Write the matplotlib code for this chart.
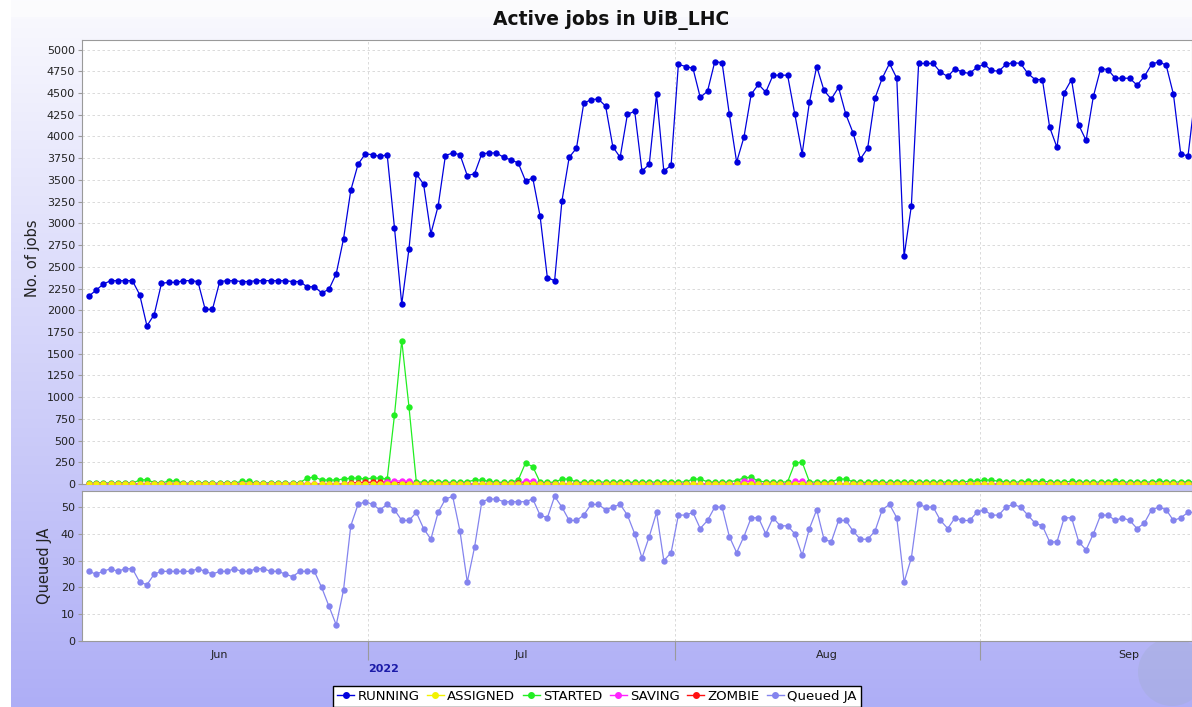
"""Active jobs in UiB_LHC - MonALISA style two-panel history chart."""
import matplotlib
matplotlib.use('Agg')
import matplotlib.pyplot as plt
import numpy as np
from matplotlib.lines import Line2D
from matplotlib.patches import Circle
from matplotlib.transforms import blended_transform_factory

plt.rcParams['font.family'] = ['DejaVu Sans']

# ---- data ----
running = [
    2160, 2230, 2300, 2340, 2340, 2340, 2340, 2180, 1820, 1950,
    2310, 2320, 2320, 2340, 2340, 2330, 2010, 2010, 2330, 2340,
    2340, 2330, 2330, 2340, 2340, 2340, 2340, 2340, 2330, 2330,
    2270, 2270, 2200, 2240, 2420, 2820, 3380, 3680, 3800, 3790,
    3770, 3790, 2950, 2070, 2710, 3570, 3450, 2880, 3200, 3780,
    3810, 3790, 3550, 3570, 3800, 3810, 3810, 3760, 3730, 3695,
    3490, 3520, 3085, 2375, 2340, 3255, 3760, 3865, 4380, 4425,
    4430, 4350, 3880, 3760, 4255, 4290, 3600, 3680, 4485, 3600,
    3670, 4830, 4805, 4785, 4450, 4520, 4860, 4850, 4255, 3705,
    3990, 4485, 4600, 4510, 4705, 4705, 4705, 4255, 3800, 4395,
    4805, 4530, 4430, 4565, 4255, 4040, 3740, 3865, 4440, 4670,
    4840, 4670, 2620, 3200, 4840, 4840, 4840, 4740, 4690, 4780,
    4740, 4725, 4795, 4830, 4760, 4750, 4830, 4850, 4840, 4725,
    4655, 4655, 4105, 3875, 4505, 4655, 4130, 3955, 4460, 4780,
    4770, 4670, 4670, 4670, 4590, 4690, 4830, 4860, 4820, 4485,
    3800, 3775, 4480,
]
started = [
    10, 10, 15, 10, 10, 15, 10, 45, 50, 15,
    10, 35, 35, 10, 10, 10, 15, 10, 10, 15,
    10, 30, 30, 10, 10, 15, 10, 10, 10, 15,
    68, 80, 46, 46, 46, 57, 68, 68, 57, 68,
    68, 57, 791, 1651, 883, 25, 20, 20, 25, 20,
    20, 20, 25, 46, 46, 30, 20, 20, 20, 46,
    241, 200, 20, 20, 20, 57, 57, 20, 20, 20,
    25, 20, 20, 25, 20, 20, 20, 25, 20, 20,
    25, 20, 25, 57, 57, 25, 20, 20, 25, 40,
    70, 80, 30, 25, 20, 20, 25, 241, 252, 25,
    20, 20, 25, 57, 57, 25, 20, 20, 25, 20,
    20, 25, 20, 20, 25, 20, 25, 20, 25, 20,
    25, 30, 35, 46, 46, 30, 25, 20, 25, 30,
    25, 30, 25, 20, 25, 30, 25, 20, 25, 20,
    25, 30, 25, 20, 25, 20, 25, 30, 25, 20,
    25, 25, 25,
]
assigned = [
    0, 0, 0, 0, 0, 0, 0, 0, 0, 0, 0, 0, 0, 0, 0, 0, 0, 0, 0, 0,
    0, 0, 0, 0, 0, 0, 0, 0, 0, 0, 0, 0, 0, 0, 0, 0, 0, 0, 0, 0,
    0, 0, 0, 0, 0, 0, 0, 0, 0, 0, 0, 0, 0, 0, 0, 0, 0, 0, 0, 0,
    0, 0, 0, 0, 0, 0, 0, 0, 0, 0, 0, 0, 0, 0, 0, 0, 0, 0, 0, 0,
    0, 0, 0, 0, 0, 0, 0, 0, 0, 0, 0, 0, 0, 0, 0, 0, 0, 0, 0, 0,
    0, 0, 0, 0, 0, 0, 0, 0, 0, 0, 0, 0, 0, 0, 0, 0, 0, 0, 0, 0,
    0, 0, 0, 0, 0, 0, 0, 0, 0, 0, 0, 0, 0, 0, 0, 0, 0, 0, 0, 0,
    0, 0, 0, 0, 0, 0, 0, 0, 0, 0, 0, 0, 0,
]
saving = [
    0, 0, 0, 0, 0, 0, 0, 0, 0, 0, 0, 0, 0, 0, 0, 0, 0, 0, 0, 0,
    0, 0, 0, 0, 0, 0, 0, 0, 0, 0, 0, 0, 0, 0, 0, 0, 0, 0, 0, 0,
    0, 20, 35, 35, 30, 0, 0, 0, 0, 0, 0, 0, 0, 0, 0, 0, 0, 0, 0, 0,
    40, 30, 0, 0, 0, 0, 0, 0, 0, 0, 0, 0, 0, 0, 0, 0, 0, 0, 0, 0,
    0, 0, 0, 0, 0, 0, 0, 0, 0, 0, 30, 30, 0, 0, 0, 0, 0, 30, 30, 0,
    0, 0, 0, 0, 0, 0, 0, 0, 0, 0, 0, 0, 0, 0, 0, 0, 0, 0, 0, 0,
    0, 0, 0, 0, 0, 0, 0, 0, 0, 0, 0, 0, 0, 0, 0, 0, 0, 0, 0, 0,
    0, 0, 0, 0, 0, 0, 0, 0, 0, 0, 0, 0, 0,
]
zombie = [
    0, 0, 0, 0, 0, 0, 0, 0, 0, 0, 0, 0, 0, 0, 0, 0, 0, 0, 0, 0,
    0, 0, 0, 0, 0, 0, 0, 0, 0, 0, 0, 0, 0, 0, 0, 0, 15, 15, 20, 20,
    20, 20, 15, 15, 20, 0, 0, 0, 0, 0, 0, 0, 0, 0, 0, 0, 0, 0, 0, 10,
    15, 0, 0, 0, 0, 0, 0, 0, 0, 0, 0, 0, 0, 0, 0, 0, 0, 0, 0, 0,
    0, 0, 0, 0, 0, 0, 0, 0, 0, 0, 0, 0, 0, 0, 0, 0, 0, 0, 0, 0,
    0, 0, 0, 0, 0, 0, 0, 0, 0, 0, 0, 0, 0, 0, 0, 0, 0, 0, 0, 0,
    0, 0, 0, 0, 0, 0, 0, 0, 0, 0, 0, 0, 0, 0, 0, 0, 0, 0, 0, 0,
    0, 0, 0, 0, 0, 0, 0, 0, 0, 0, 0, 0, 0,
]
queued = [
    26, 25, 26, 27, 26, 27, 27, 22, 21, 25,
    26, 26, 26, 26, 26, 27, 26, 25, 26, 26,
    27, 26, 26, 27, 27, 26, 26, 25, 24, 26,
    26, 26, 20, 13, 6, 19, 43, 51, 52, 51,
    49, 51, 49, 45, 45, 48, 42, 38, 48, 53,
    54, 41, 22, 35, 52, 53, 53, 52, 52, 52,
    52, 53, 47, 46, 54, 50, 45, 45, 47, 51,
    51, 49, 50, 51, 47, 40, 31, 39, 48, 30,
    33, 47, 47, 48, 42, 45, 50, 50, 39, 33,
    39, 46, 46, 40, 46, 43, 43, 40, 32, 42,
    49, 38, 37, 45, 45, 41, 38, 38, 41, 49,
    51, 46, 22, 31, 51, 50, 50, 45, 42, 46,
    45, 45, 48, 49, 47, 47, 50, 51, 50, 47,
    44, 43, 37, 37, 46, 46, 37, 34, 40, 47,
    47, 45, 46, 45, 42, 44, 49, 50, 49, 45,
    46, 48, 48,
]
# month boundaries / label centres (in sample index units)
month_edges = [38.4, 80.5, 122.4]
month_names = ['Jun', 'Jul', 'Aug', 'Sep']
month_centres = [18.0, 59.4, 101.4, 142.8]
year_label = '2022'

x = np.arange(len(running))

W, H = 1192, 707
fig = plt.figure(figsize=(W / 100, H / 100), dpi=100)

# ---- gradient background ----
bg = fig.add_axes([0, 0, 1, 1], zorder=-10)
bg.set_axis_off()
top_c = np.array([250, 250, 254]) / 255
bot_c = np.array([174, 174, 246]) / 255
t = np.linspace(0, 1, H)[:, None]
grad = top_c[None, :] * (1 - t) + bot_c[None, :] * t
img = np.repeat(grad[:, None, :], W, axis=1)
img[:, :11, :] = 1.0
img[:17, :, :] = np.maximum(img[:17, :, :], 0.985)
bg.imshow(img, extent=(0, W, H, 0), aspect='auto')
bg.set_xlim(0, W)
bg.set_ylim(H, 0)
bg.add_patch(Circle((1172, 672), 34, facecolor='#a3add4', edgecolor='none', alpha=0.4))

def px_rect(l, t_, r, b):
    return [l / W, 1 - b / H, (r - l) / W, (b - t_) / H]

ax1 = fig.add_axes(px_rect(82, 40, 1192, 484))
ax2 = fig.add_axes(px_rect(82, 491, 1192, 641), sharex=ax1)

xlim = (-0.92, 151.55)
grid_kw = dict(color='#d4d4d4', linestyle='--', linewidth=0.6, dashes=(3, 3))

for ax in (ax1, ax2):
    ax.set_facecolor('white')
    for s in ax.spines.values():
        s.set_color('#9a9a9a')
        s.set_linewidth(0.8)
    ax.tick_params(axis='y', direction='out', length=3, color='#9a9a9a',
                   labelsize=8, pad=2, labelcolor='#222222')
    ax.set_axisbelow(True)
    ax.yaxis.grid(True, **grid_kw)
    for e in month_edges:
        ax.axvline(e, zorder=0, **grid_kw)

mk = dict(marker='o', markersize=4.6, linewidth=0.9, markeredgewidth=0)
ax1.plot(x, running, color='#0000dd', **mk, zorder=5)
ax1.plot(x, started, color='#22ee22', **mk, zorder=3)
ax1.plot(x, zombie, color='#ff1111', **mk, zorder=3.2)
ax1.plot(x, saving, color='#ff22ff', **mk, zorder=3.4)
ax1.plot(x, assigned, color='#f2f200', **mk, zorder=3.6)
ax1.set_ylim(0, 5110)
ax1.set_yticks(np.arange(0, 5001, 250))
ax1.set_xlim(*xlim)
ax1.tick_params(axis='x', bottom=False, labelbottom=False)

ax2.plot(x, queued, color='#8484ee', **mk, zorder=5)
ax2.set_ylim(0, 56)
ax2.set_yticks(np.arange(0, 51, 10))
ax2.set_xlim(*xlim)
ax2.set_xticks(month_edges)
ax2.set_xticklabels([])
ax2.tick_params(axis='x', direction='out', length=14, width=0.8, color='#9a9a9a')

trans = blended_transform_factory(ax2.transData, fig.transFigure)
for c, name in zip(month_centres, month_names):
    fig.text(c, 1 - 655 / H, name, transform=trans, ha='center', va='center',
             fontsize=8, color='#222222')
fig.text(month_edges[0], 1 - 669 / H, year_label, transform=trans, ha='left',
         va='center', fontsize=8, fontweight='bold', color='#1a1aa8')

fig.text(33 / W, 1 - 258 / H, 'No. of jobs', rotation=90, ha='center', va='center',
         fontsize=10.5, color='#222222')
fig.text(45 / W, 1 - 566 / H, 'Queued JA', rotation=90, ha='center', va='center',
         fontsize=10.5, color='#222222')
fig.text(611 / W, 1 - 20 / H, 'Active jobs in UiB_LHC', ha='center', va='center',
         fontsize=13.5, fontweight='bold', color='#111111')

handles = [
    Line2D([0], [0], color='#0000dd', marker='o', markersize=4, lw=1),
    Line2D([0], [0], color='#f2f200', marker='o', markersize=4, lw=1),
    Line2D([0], [0], color='#22ee22', marker='o', markersize=4, lw=1),
    Line2D([0], [0], color='#ff22ff', marker='o', markersize=4, lw=1),
    Line2D([0], [0], color='#ff1111', marker='o', markersize=4, lw=1),
    Line2D([0], [0], color='#8484ee', marker='o', markersize=4, lw=1),
]
labels = ['RUNNING', 'ASSIGNED', 'STARTED', 'SAVING', 'ZOMBIE', 'Queued JA']
leg = fig.legend(handles, labels, loc='upper center', bbox_to_anchor=(597 / W, 1 - 686 / H),
                 ncol=6, fontsize=9.5, frameon=True, fancybox=False, edgecolor='black',
                 framealpha=1, handlelength=1.3, handletextpad=0.25, columnspacing=0.55,
                 borderpad=0.3, borderaxespad=0)
leg.get_frame().set_linewidth(1.0)

fig.savefig('out.png', dpi=100)
